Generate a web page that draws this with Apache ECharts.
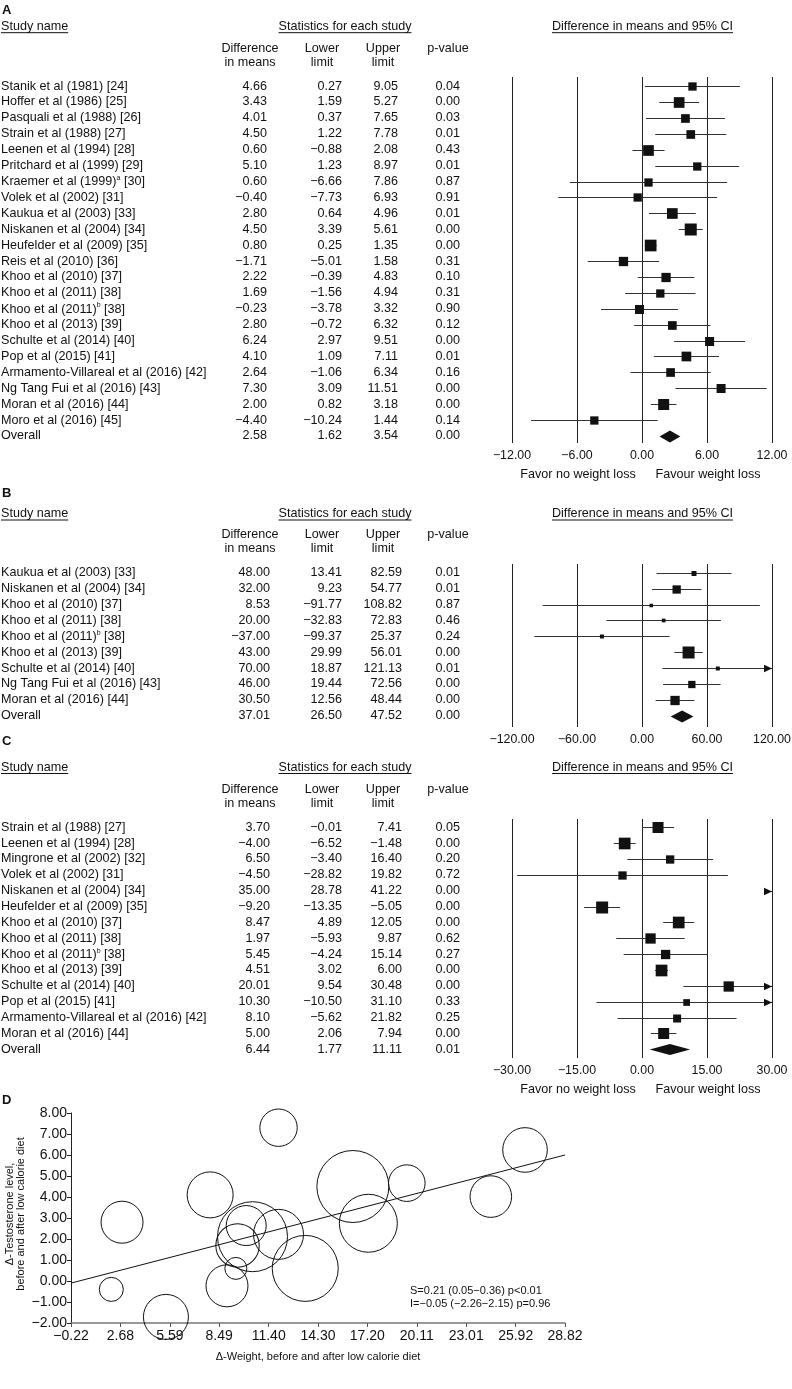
<!DOCTYPE html>
<html><head><meta charset="utf-8">
<script src="https://cdn.jsdelivr.net/npm/echarts@6/dist/echarts.min.js"></script>
<style>html,body{margin:0;padding:0;background:#fff}#c{width:792px;height:1389px}</style>
</head><body><div id="c"></div>
<script>
// ---------- Panel A : testosterone ----------
const aStudies = ["Stanik et al (1981) [24]","Hoffer et al (1986) [25]","Pasquali et al (1988) [26]","Strain et al (1988) [27]","Leenen et al (1994) [28]","Pritchard et al (1999) [29]","Kraemer et al (1999)^a [30]","Volek et al (2002) [31]","Kaukua et al (2003) [33]","Niskanen et al (2004) [34]","Heufelder et al (2009) [35]","Reis et al (2010) [36]","Khoo et al (2010) [37]","Khoo et al (2011) [38]","Khoo et al (2011)^b [38]","Khoo et al (2013) [39]","Schulte et al (2014) [40]","Pop et al (2015) [41]","Armamento-Villareal et al (2016) [42]","Ng Tang Fui et al (2016) [43]","Moran et al (2016) [44]","Moro et al (2016) [45]","Overall"];
const aDiff  = [4.66,3.43,4.01,4.50,0.60,5.10,0.60,-0.40,2.80,4.50,0.80,-1.71,2.22,1.69,-0.23,2.80,6.24,4.10,2.64,7.30,2.00,-4.40,2.58];
const aLower = [0.27,1.59,0.37,1.22,-0.88,1.23,-6.66,-7.73,0.64,3.39,0.25,-5.01,-0.39,-1.56,-3.78,-0.72,2.97,1.09,-1.06,3.09,0.82,-10.24,1.62];
const aUpper = [9.05,5.27,7.65,7.78,2.08,8.97,7.86,6.93,4.96,5.61,1.35,1.58,4.83,4.94,3.32,6.32,9.51,7.11,6.34,11.51,3.18,1.44,3.54];
const aP     = [0.04,0.00,0.03,0.01,0.43,0.01,0.87,0.91,0.01,0.00,0.00,0.31,0.10,0.31,0.90,0.12,0.00,0.01,0.16,0.00,0.00,0.14,0.00];
const aWeight= [8.3,10.7,8.7,8.7,10.7,8.3,8.3,8.3,10.7,12,11.7,9.3,9.3,8.3,9,8.7,9,9.7,8.7,9,11,8.3,0];
const aTicks = [-12,-6,0,6,12];

// ---------- Panel B ----------
const bStudies = ["Kaukua et al (2003) [33]","Niskanen et al (2004) [34]","Khoo et al (2010) [37]","Khoo et al (2011) [38]","Khoo et al (2011)^b [38]","Khoo et al (2013) [39]","Schulte et al (2014) [40]","Ng Tang Fui et al (2016) [43]","Moran et al (2016) [44]","Overall"];
const bDiff  = [48.00,32.00,8.53,20.00,-37.00,43.00,70.00,46.00,30.50,37.01];
const bLower = [13.41,9.23,-91.77,-32.83,-99.37,29.99,18.87,19.44,12.56,26.50];
const bUpper = [82.59,54.77,108.82,72.83,25.37,56.01,121.13,72.56,48.44,47.52];
const bP     = [0.01,0.01,0.87,0.46,0.24,0.00,0.01,0.00,0.00,0.00];
const bWeight= [5,8.3,3.5,3.7,4,12,4,7.3,9.3,0];
const bTicks = [-120,-60,0,60,120];

// ---------- Panel C ----------
const cStudies = ["Strain et al (1988) [27]","Leenen et al (1994) [28]","Mingrone et al (2002) [32]","Volek et al (2002) [31]","Niskanen et al (2004) [34]","Heufelder et al (2009) [35]","Khoo et al (2010) [37]","Khoo et al (2011) [38]","Khoo et al (2011)^b [38]","Khoo et al (2013) [39]","Schulte et al (2014) [40]","Pop et al (2015) [41]","Armamento-Villareal et al (2016) [42]","Moran et al (2016) [44]","Overall"];
const cDiff  = [3.70,-4.00,6.50,-4.50,35.00,-9.20,8.47,1.97,5.45,4.51,20.01,10.30,8.10,5.00,6.44];
const cLower = [-0.01,-6.52,-3.40,-28.82,28.78,-13.35,4.89,-5.93,-4.24,3.02,9.54,-10.50,-5.62,2.06,1.77];
const cUpper = [7.41,-1.48,16.40,19.82,41.22,-5.05,12.05,9.87,15.14,6.00,30.48,31.10,21.82,7.94,11.11];
const cP     = [0.05,0.00,0.20,0.72,0.00,0.00,0.00,0.62,0.27,0.00,0.00,0.33,0.25,0.00,0.01];
const cWeight= [11,11.7,8.3,8.3,11,12,11.7,10.3,9.3,11.7,10.3,6.7,8,11,0];
const cTicks = [-30,-15,0,15,30];

// ---------- Panel D : meta-regression ----------
const dWeightChange = [2.78,2.15,5.36,7.96,11.98,8.95,9.47,9.57,10.45,10.08,11.98,13.55,16.35,17.26,19.52,24.46,26.47];
const dTestoChange  = [2.80,-0.40,-1.71,4.10,7.30,-0.23,0.60,1.69,2.11,2.64,2.22,0.60,4.50,2.75,4.66,4.02,6.24];
const dStudyWeight  = [21,12,22.5,23,18.7,21,11,21.7,35,20,25,33,36,29,18.3,20.8,22.3];
const dLineX = [-0.22, 28.82];
const dLineY = [-0.10, 6.00];
const dXTicks = [-0.22,2.68,5.59,8.49,11.40,14.30,17.20,20.11,23.01,25.92,28.82];
const dStats = ["S=0.21 (0.05\u22120.36) p<0.01","I=\u22120.05 (\u22122.26\u22122.15) p=0.96"];

// ---------- helpers ----------
const FONT = "'Liberation Sans', Arial, Helvetica, sans-serif";
const INK = '#111';
const FS = 12.6;
const MARK = 1.0;
function fmt(v){ return (v < 0 ? '\u2212' : '') + Math.abs(v).toFixed(2); }
const mctx = document.createElement('canvas').getContext('2d');
function tw(t, size){ mctx.font = size + 'px ' + FONT; return mctx.measureText(t).width; }

function richName(name){
  const m = name.match(/^(.*?)\^(\w)(.*)$/);
  if (!m) return { text: name, rich: undefined };
  return {
    text: '{n|' + m[1] + '}{s|' + m[2] + '}{n|' + m[3] + '}',
    rich: {
      n: { fontSize: FS, fontFamily: FONT, fill: INK, color: INK, lineHeight: 14, verticalAlign: 'bottom' },
      s: { fontSize: 7, fontFamily: FONT, fill: INK, color: INK, lineHeight: 14, verticalAlign: 'top', padding: [0, 0, 6, 0] }
    }
  };
}

function txt(x, y, text, align, opts){
  opts = opts || {};
  const size = opts.size || FS;
  const el = {
    type: 'text', x: x, y: y, silent: true,
    style: {
      text: text, font: (opts.bold ? 'bold ' : '') + size + 'px ' + FONT, fill: INK,
      align: align, verticalAlign: 'middle', textAlign: align, textVerticalAlign: 'middle'
    }
  };
  if (opts.rotation) el.rotation = opts.rotation;
  if (opts.lineHeight) el.style.lineHeight = opts.lineHeight;
  return el;
}
function under(x1, x2, y){
  return { type: 'line', silent: true, shape: { x1: x1, y1: y, x2: x2, y2: y }, style: { stroke: INK, lineWidth: 1 } };
}

const panels = [
  { key:'A', names:aStudies, diff:aDiff, lower:aLower, upper:aUpper, p:aP, w:aWeight, ticks:aTicks,
    top:77, height:366, yMin:-0.57, yMax:22.44, cols:[267,342,398,460], dh:6,
    yLetter:10, yTitle:26.7, yH1:49, yH2:62.3, yFavor:474.7 },
  { key:'B', names:bStudies, diff:bDiff, lower:bLower, upper:bUpper, p:bP, w:bWeight, ticks:bTicks,
    top:564, height:163, yMin:-0.55, yMax:9.71, cols:[270,342,402,460], dh:6,
    yLetter:493, yTitle:514, yH1:535, yH2:548.5, yFavor:null },
  { key:'C', names:cStudies, diff:cDiff, lower:cLower, upper:cUpper, p:cP, w:cWeight, ticks:cTicks,
    top:819, height:239, yMin:-0.52, yMax:14.55, cols:[270,342,402,460], dh:5.5,
    yLetter:741, yTitle:767.5, yH1:790, yH2:803.3, yFavor:1090 }
];

const grids = [], xAxes = [], yAxes = [], series = [], graphics = [];

panels.forEach(function(pn, gi){
  grids.push({ left: 512, right: 20, top: pn.top, height: pn.height, outerBoundsMode: 'none', containLabel: false });
  const step = pn.ticks[1] - pn.ticks[0];
  xAxes.push({
    gridIndex: gi, type: 'value', min: pn.ticks[0], max: pn.ticks[pn.ticks.length - 1], interval: step,
    axisLine: { show: false, onZero: false }, axisTick: { show: false },
    splitLine: { show: true, lineStyle: { color: '#222', width: 1 } },
    axisLabel: { formatter: fmt, color: INK, fontSize: 12.4, fontFamily: FONT, margin: 7, showMinLabel: true, showMaxLabel: true }
  });
  yAxes.push({ gridIndex: gi, type: 'value', inverse: true, min: pn.yMin, max: pn.yMax, show: false, splitLine: { show: false } });

  const forestData = pn.names.map(function(_, i){
    return [pn.diff[i], i, pn.lower[i], pn.upper[i], pn.w[i], pn.names[i] === 'Overall' ? 1 : 0];
  });
  series.push({
    type: 'custom', xAxisIndex: gi, yAxisIndex: gi, silent: true, clip: false,
    encode: { x: 0, y: 1 }, data: forestData,
    renderItem: function(params, api){
      const est = api.value(0), row = api.value(1), lo = api.value(2), hi = api.value(3), w = api.value(4), ov = api.value(5);
      const cs = params.coordSys; const L = cs.x, R = cs.x + cs.width;
      const pe = api.coord([est, row]), pl = api.coord([lo, row]), ph = api.coord([hi, row]);
      const y = Math.round(pe[1]) + 0.5;
      const kids = [];
      if (ov) {
        const h = pn.dh;
        kids.push({ type: 'polygon', shape: { points: [[pl[0], y], [pe[0], y - h], [ph[0], y], [pe[0], y + h]] }, style: { fill: INK } });
      } else {
        const x1 = Math.max(pl[0], L), x2 = Math.min(ph[0], R);
        if (x2 > x1) kids.push({ type: 'line', shape: { x1: x1, y1: y, x2: x2, y2: y }, style: { stroke: '#333', lineWidth: 1 } });
        if (ph[0] > R) kids.push({ type: 'polygon', shape: { points: [[R, y], [R - 8, y - 3.8], [R - 8, y + 3.8]] }, style: { fill: INK } });
        if (pl[0] < L) kids.push({ type: 'polygon', shape: { points: [[L, y], [L + 8, y - 3.8], [L + 8, y + 3.8]] }, style: { fill: INK } });
        if (pe[0] >= L && pe[0] <= R) {
          const s = w * MARK;
          kids.push({ type: 'rect', shape: { x: pe[0] - s / 2, y: y - s / 2, width: s, height: s }, style: { fill: INK } });
        }
      }
      return { type: 'group', children: kids };
    }
  });

  // table text on the same row scale
  series.push({
    type: 'custom', xAxisIndex: gi, yAxisIndex: gi, silent: true, clip: false,
    encode: { x: 0, y: 1 }, data: pn.names.map(function(_, i){ return [0, i]; }),
    renderItem: function(params, api){
      const i = params.dataIndex;
      const y = api.coord([0, api.value(1)])[1];
      const nm = richName(pn.names[i]);
      const nameEl = { type: 'text', x: 1, y: y, silent: true,
        style: { text: nm.text, font: FS + 'px ' + FONT, fill: INK, align: 'left', verticalAlign: 'middle', textAlign: 'left', textVerticalAlign: 'middle' } };
      if (nm.rich) nameEl.style.rich = nm.rich;
      const c = pn.cols;
      return { type: 'group', children: [
        nameEl,
        txt(c[0], y, fmt(pn.diff[i]), 'right'),
        txt(c[1], y, fmt(pn.lower[i]), 'right'),
        txt(c[2], y, fmt(pn.upper[i]), 'right'),
        txt(c[3], y, pn.p[i].toFixed(2), 'right')
      ] };
    }
  });

  // headers
  graphics.push(txt(2, pn.yLetter, pn.key, 'left', { bold: true, size: 13 }));
  const sw = tw('Study name', FS);
  graphics.push(txt(1, pn.yTitle, 'Study name', 'left'));
  graphics.push(under(1, 1 + sw, pn.yTitle + 6));
  const st = 'Statistics for each study', stw = tw(st, FS);
  graphics.push(txt(345, pn.yTitle, st, 'center'));
  graphics.push(under(345 - stw / 2, 345 + stw / 2, pn.yTitle + 6));
  const ft = 'Difference in means and 95% CI', ftw = tw(ft, FS);
  graphics.push(txt(642.5, pn.yTitle, ft, 'center'));
  graphics.push(under(642.5 - ftw / 2, 642.5 + ftw / 2, pn.yTitle + 6));
  graphics.push(txt(250, pn.yH1, 'Difference', 'center'));
  graphics.push(txt(250, pn.yH2, 'in means', 'center'));
  graphics.push(txt(322, pn.yH1, 'Lower', 'center'));
  graphics.push(txt(322, pn.yH2, 'limit', 'center'));
  graphics.push(txt(383, pn.yH1, 'Upper', 'center'));
  graphics.push(txt(383, pn.yH2, 'limit', 'center'));
  graphics.push(txt(448, pn.yH1, 'p-value', 'center'));
  if (pn.yFavor) {
    graphics.push(txt(578, pn.yFavor, 'Favor no weight loss', 'center'));
    graphics.push(txt(708, pn.yFavor, 'Favour weight loss', 'center'));
  }
});

// ---------- Panel D ----------
const gD = grids.length;
grids.push({ left: 71, right: 227, top: 1113, height: 210, outerBoundsMode: 'none', containLabel: false });
xAxes.push({
  gridIndex: gD, type: 'value', min: dXTicks[0], max: dXTicks[dXTicks.length - 1],
  axisLine: { show: true, onZero: false, lineStyle: { color: '#777', width: 1.5 } },
  axisTick: { show: true, customValues: dXTicks, length: 4, lineStyle: { color: '#555' } },
  axisLabel: { customValues: dXTicks, formatter: fmt, color: INK, fontSize: 14, fontFamily: FONT, margin: 6 },
  splitLine: { show: false },
  name: '\u0394-Weight, before and after low calorie diet', nameLocation: 'middle', nameGap: 28,
  nameMoveOverlap: false,
  nameTextStyle: { color: INK, fontSize: 11, fontFamily: FONT }
});
yAxes.push({
  gridIndex: gD, type: 'value', min: -2, max: 8, interval: 1,
  axisLine: { show: true, onZero: false, lineStyle: { color: '#222', width: 1 } },
  axisTick: { show: true, length: 4, lineStyle: { color: '#222' } },
  axisLabel: { formatter: fmt, color: INK, fontSize: 14, fontFamily: FONT, margin: 4 },
  splitLine: { show: false }
});
series.push({
  type: 'line', xAxisIndex: gD, yAxisIndex: gD, silent: true, symbol: 'none',
  data: dLineX.map(function(x, i){ return [x, dLineY[i]]; }),
  lineStyle: { color: '#111', width: 1 }, z: 2
});
series.push({
  type: 'scatter', xAxisIndex: gD, yAxisIndex: gD, silent: true, clip: false,
  data: dWeightChange.map(function(x, i){ return [x, dTestoChange[i], dStudyWeight[i]]; }),
  symbol: 'circle', symbolSize: function(v){ return v[2] * 2; },
  itemStyle: { color: 'rgba(0,0,0,0)', borderColor: '#111', borderWidth: 1, opacity: 1 }, z: 3
});
graphics.push(txt(2, 1100.5, 'D', 'left', { bold: true, size: 13 }));
graphics.push(txt(15.5, 1214, '\u0394-Testosterone level,\nbefore and after low calorie diet', 'center', { size: 11, rotation: Math.PI / 2, lineHeight: 11.5 }));
graphics.push(txt(410, 1291, dStats[0], 'left', { size: 11 }));
graphics.push(txt(410, 1303.5, dStats[1], 'left', { size: 11 }));

const chart = echarts.init(document.getElementById('c'), null, { renderer: 'canvas' });
chart.setOption({
  animation: false,
  backgroundColor: '#fff',
  grid: grids, xAxis: xAxes, yAxis: yAxes, series: series,
  graphic: { elements: graphics }
});
</script></body></html>
